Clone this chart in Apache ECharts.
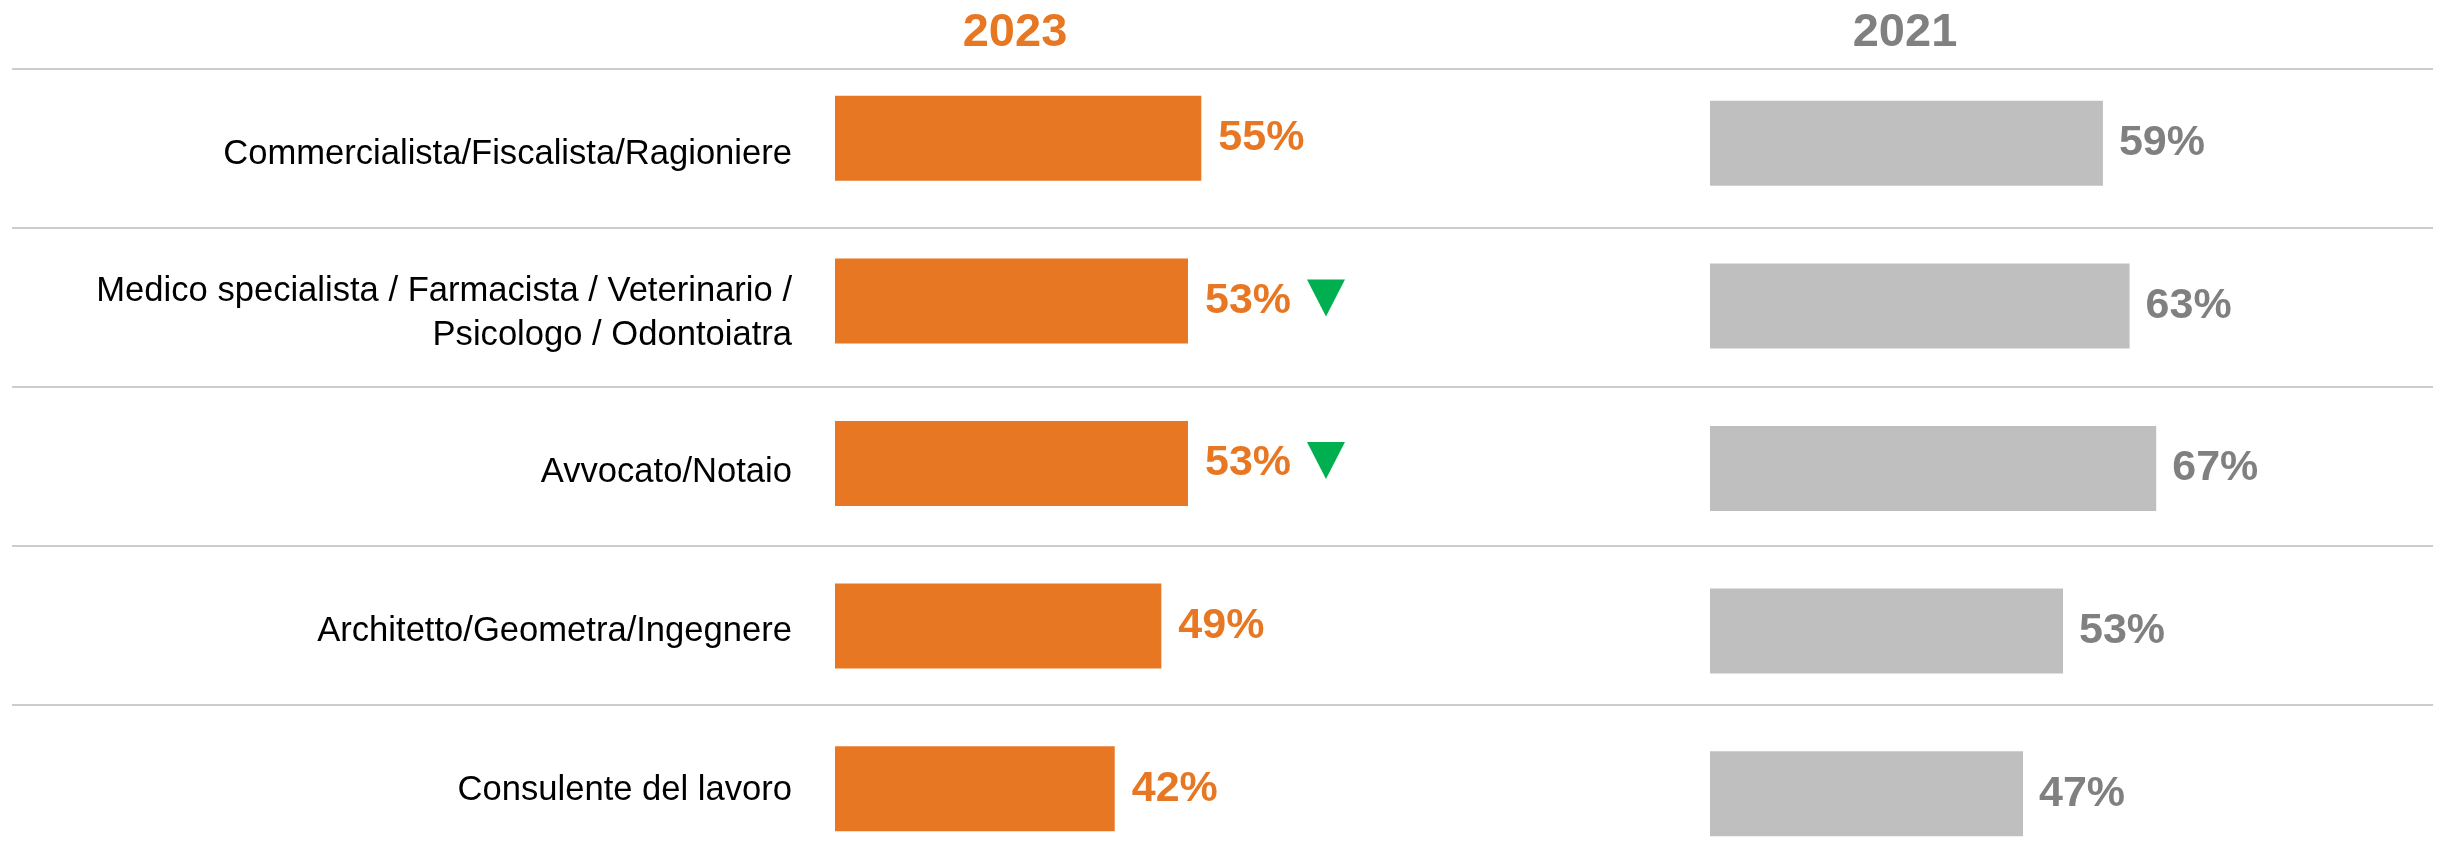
<!DOCTYPE html>
<html>
<head>
<meta charset="utf-8">
<script src="https://cdn.jsdelivr.net/npm/echarts@6/dist/echarts.min.js"></script>
<style>
  html, body { margin: 0; padding: 0; background: #fff; }
  #chart { width: 2445px; height: 858px; }
</style>
</head>
<body>
<div id="chart"></div>
<script>
// data
var categories = [
  'Commercialista/Fiscalista/Ragioniere',
  'Medico specialista / Farmacista / Veterinario /\nPsicologo / Odontoiatra',
  'Avvocato/Notaio',
  'Architetto/Geometra/Ingegnere',
  'Consulente del lavoro'
];
var years = ['2023', '2021'];
var values2023 = [55, 53, 53, 49, 42];
var values2021 = [59, 63, 67, 53, 47];
var sigDown2023 = [false, true, true, false, false]; // green triangles

var ORANGE = '#E77722';
var GREY_BAR = '#BFBFBF';
var GREY_TXT = '#808080';
var FONT = "'Liberation Sans', Arial, sans-serif";

var chart = echarts.init(document.getElementById('chart'));

chart.setOption({
  animation: false,
  graphic: [
    { type: 'text', x: 1015, y: 33, style: { text: years[0], fill: ORANGE, font: 'bold 47px ' + FONT, align: 'center', verticalAlign: 'middle' } },
    { type: 'text', x: 1905, y: 33, style: { text: years[1], fill: GREY_TXT, font: 'bold 47px ' + FONT, align: 'center', verticalAlign: 'middle' } }
  ],
  grid: [
    // separators (last band runs past the bottom edge)
    { left: 12, right: 12, top: 69, height: 795, outerBoundsMode: 'none' },
    // 2023 bars
    { left: 835, width: 666, top: 57, height: 813, outerBoundsMode: 'none' },
    // 2021 bars
    { left: 1710, width: 666, top: 62, height: 813, outerBoundsMode: 'none' },
    // category labels, a little lower than the bands
    { left: 792, width: 10, top: 75, height: 795, outerBoundsMode: 'none' }
  ],
  xAxis: [
    { gridIndex: 0, type: 'value', show: false },
    { gridIndex: 1, type: 'value', min: 0, max: 100, show: false },
    { gridIndex: 2, type: 'value', min: 0, max: 100, show: false },
    { gridIndex: 3, type: 'value', show: false }
  ],
  yAxis: [
    {
      gridIndex: 0,
      type: 'category',
      inverse: true,
      data: categories,
      axisLine: { show: false },
      axisTick: { show: false },
      axisLabel: { show: false },
      splitLine: { show: true, lineStyle: { color: '#cccccc', width: 2 } }
    },
    { gridIndex: 1, type: 'category', inverse: true, data: categories, show: false },
    { gridIndex: 2, type: 'category', inverse: true, data: categories, show: false },
    {
      gridIndex: 3,
      type: 'category',
      inverse: true,
      data: categories,
      axisLine: { show: false },
      axisTick: { show: false },
      splitLine: { show: false },
      axisLabel: {
        margin: 0,
        color: '#000',
        fontFamily: FONT,
        fontSize: 34.6,
        lineHeight: 44,
        align: 'right'
      }
    }
  ],
  series: [
    {
      name: years[0],
      type: 'bar',
      xAxisIndex: 1,
      yAxisIndex: 1,
      barWidth: 85,
      itemStyle: { color: ORANGE },
      label: {
        show: true,
        position: 'right',
        distance: 17,
        formatter: '{c}%',
        color: ORANGE,
        fontFamily: FONT,
        fontWeight: 'bold',
        fontSize: 43
      },
      data: values2023
    },
    {
      name: 'calo',
      type: 'scatter',
      xAxisIndex: 1,
      yAxisIndex: 1,
      symbol: 'triangle',
      symbolRotate: 180,
      symbolSize: [38, 37],
      symbolOffset: [138, -3],
      itemStyle: { color: '#00B050', opacity: 1 },
      z: 5,
      data: values2023.map(function (v, i) { return sigDown2023[i] ? v : '-'; })
    },
    {
      name: years[1],
      type: 'bar',
      xAxisIndex: 2,
      yAxisIndex: 2,
      barWidth: 85,
      itemStyle: { color: GREY_BAR },
      label: {
        show: true,
        position: 'right',
        distance: 16,
        formatter: '{c}%',
        color: GREY_TXT,
        fontFamily: FONT,
        fontWeight: 'bold',
        fontSize: 43
      },
      data: values2021
    }
  ]
});
</script>
</body>
</html>
